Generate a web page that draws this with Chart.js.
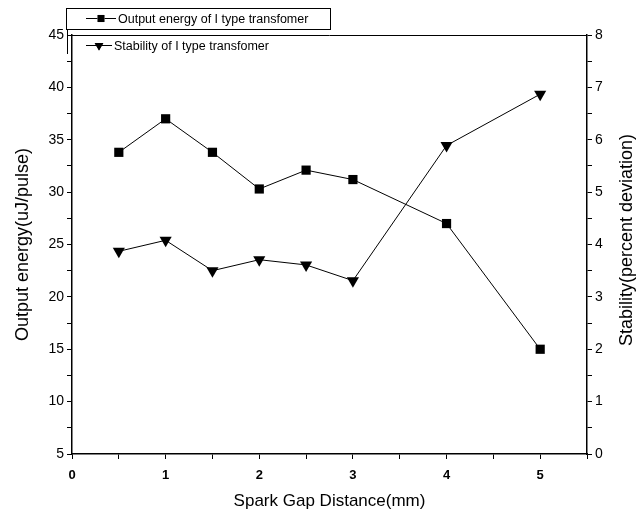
<!DOCTYPE html>
<html>
<head>
<meta charset="utf-8">
<script src="https://cdn.jsdelivr.net/npm/chart.js@4"></script>
<style>
  html, body { margin: 0; padding: 0; background: #fff; }
  #wrap { width: 644px; height: 517px; }
</style>
</head>
<body>
<div id="wrap"><canvas id="chart" width="644" height="517"></canvas></div>
<script>
// spark gap distance (mm)
const gapDistance = [0.5, 1, 1.5, 2, 2.5, 3, 4, 5];
// output energy (uJ/pulse), left axis
const outputEnergy = [33.8, 37.0, 33.8, 30.3, 32.1, 31.2, 27.0, 15.0];
// stability (percent deviation), right axis
const stability = [3.87, 4.08, 3.5, 3.71, 3.61, 3.31, 5.89, 6.87];

const seriesNames = ['Output energy of I type transfomer', 'Stability of I type transfomer'];
const rightTitle = 'Stability(percent deviation)';

const FONT = '"Liberation Sans", Arial, sans-serif';

// frame round the plot, right axis title (reads bottom to top) and the legend box
const framePlugin = {
  id: 'frame',
  afterDraw(chart) {
    const c = chart.ctx, a = chart.chartArea;
    c.save();
    c.strokeStyle = '#000';
    c.lineWidth = 1;
    c.beginPath();
    c.moveTo(a.left, a.top + 0.5);
    c.lineTo(a.right, a.top + 0.5);
    c.stroke();

    // right title
    c.save();
    c.translate(627, 240);
    c.rotate(-Math.PI / 2);
    c.font = '18px ' + FONT;
    c.fillStyle = '#000';
    c.textAlign = 'center';
    c.textBaseline = 'middle';
    c.fillText(rightTitle, 0, 0);
    c.restore();

    // legend
    c.fillStyle = '#fff';
    c.fillRect(66, 8, 264, 21);
    c.strokeRect(66.5, 8.5, 264, 21);
    c.beginPath();
    c.moveTo(67.5, 29);
    c.lineTo(67.5, 54);
    c.stroke();

    c.font = '12.5px ' + FONT;
    c.textBaseline = 'middle';
    const rows = [
      { y: 18.5, style: 'rect', rot: 0, x0: 86, x1: 116, tx: 118 },
      { y: 45.5, style: 'triangle', rot: 180, x0: 86, x1: 112, tx: 114 }
    ];
    rows.forEach((r, i) => {
      c.beginPath();
      c.moveTo(r.x0, r.y);
      c.lineTo(r.x1, r.y);
      c.stroke();
      Chart.helpers.drawPoint(c, { pointStyle: r.style, radius: 5, rotation: r.rot, borderWidth: 0 },
        (r.x0 + r.x1) / 2, r.y);
      c.fillStyle = '#000';
      c.fill();
      c.fillText(seriesNames[i], r.tx, r.y + 1);
    });
    c.restore();
  }
};

const tickFont = { family: FONT, size: 14 };

new Chart(document.getElementById('chart'), {
  type: 'line',
  data: {
    datasets: [{
      label: seriesNames[0],
      data: gapDistance.map((x, i) => ({ x: x, y: outputEnergy[i] })),
      yAxisID: 'y',
      borderColor: '#000',
      backgroundColor: '#000',
      borderWidth: 1,
      pointStyle: 'rect',
      pointRadius: 6.5,
      pointBorderWidth: 0,
      tension: 0
    }, {
      label: seriesNames[1],
      data: gapDistance.map((x, i) => ({ x: x, y: stability[i] })),
      yAxisID: 'y2',
      borderColor: '#000',
      backgroundColor: '#000',
      borderWidth: 1,
      pointStyle: 'triangle',
      pointRotation: 180,
      pointRadius: 7,
      pointBorderWidth: 0,
      tension: 0
    }]
  },
  options: {
    responsive: false,
    animation: false,
    layout: { padding: { top: 35, left: 0, right: 0, bottom: 0 } },
    plugins: { legend: { display: false }, tooltip: { enabled: false } },
    scales: {
      x: {
        type: 'linear',
        min: 0,
        max: 5.5,
        afterFit(s) { s.height = 63; },
        afterBuildTicks(s) {
          s.ticks = [];
          for (let v = 0; v <= 5.5; v += 0.5) s.ticks.push({ value: v });
        },
        grid: { drawOnChartArea: false, tickLength: 5, color: '#000' },
        border: { color: '#000', width: 1.5 },
        ticks: {
          color: '#000', font: { family: FONT, size: 13, weight: 'bold' }, padding: 9,
          maxRotation: 0, autoSkip: false,
          callback: v => Number.isInteger(v) ? v : ''
        },
        title: { display: true, text: 'Spark Gap Distance(mm)', color: '#000', font: { family: FONT, size: 17 }, padding: { top: 0, bottom: 5 } }
      },
      y: {
        position: 'left',
        min: 5,
        max: 45,
        afterFit(s) { s.width = 72; },
        afterBuildTicks(s) {
          s.ticks = [];
          for (let v = 5; v <= 45; v += 2.5) s.ticks.push({ value: v });
        },
        grid: { drawOnChartArea: false, tickLength: 5, color: '#000' },
        border: { color: '#000', width: 1.5 },
        ticks: {
          color: '#000', font: tickFont, padding: 3, autoSkip: false,
          callback: v => v % 5 === 0 ? v : ''
        },
        title: { display: true, text: 'Output energy(uJ/pulse)', color: '#000', font: { family: FONT, size: 18 }, padding: { top: 12 } }
      },
      y2: {
        position: 'right',
        min: 0,
        max: 8,
        afterFit(s) { s.width = 57; },
        afterBuildTicks(s) {
          s.ticks = [];
          for (let v = 0; v <= 8; v += 0.5) s.ticks.push({ value: v });
        },
        grid: { drawOnChartArea: false, tickLength: 5, color: '#000' },
        border: { color: '#000', width: 1.5 },
        ticks: {
          color: '#000', font: tickFont, padding: 3, autoSkip: false,
          callback: v => Number.isInteger(v) ? v : ''
        }
      }
    }
  },
  plugins: [framePlugin]
});
</script>
</body>
</html>
